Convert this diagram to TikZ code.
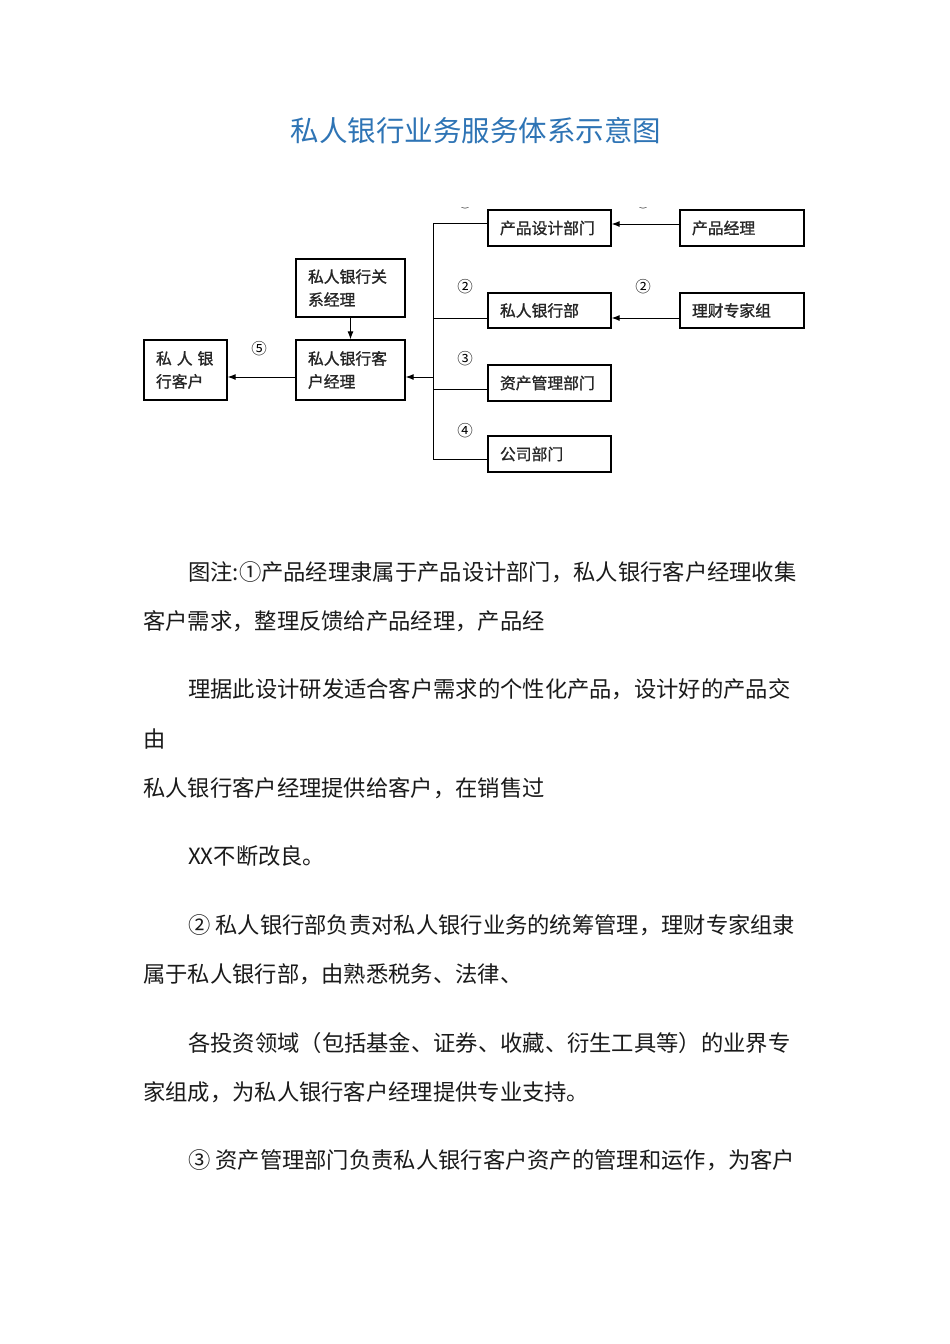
\documentclass[tikz,border=0pt]{standalone}
\usepackage{fontspec}
\setmainfont{Noto Sans CJK SC}
\newfontfamily\cjk{Noto Sans CJK SC}
\newfontfamily\cjkbox[FakeBold=1.2]{Noto Sans CJK SC}
\usetikzlibrary{arrows.meta}
\definecolor{titleblue}{HTML}{2E74B5}
\definecolor{bodyink}{HTML}{1A1A1A}
\tikzset{
  box/.style={draw, line width=1.3pt, inner xsep=12pt, inner ysep=0pt, align=left, font=\cjkbox\fontsize{15.8}{23}\selectfont, text=black!85, anchor=center},
  arr/.style={line width=1pt, -{Latex[length=8pt,width=6pt]}},
  conn/.style={line width=1pt},
  num/.style={font=\cjk\fontsize{15.5}{15.5}\selectfont, inner sep=0pt},
  body/.style={font=\cjk\fontsize{22.3}{22.3}\selectfont, text=bodyink, anchor=west, inner sep=0pt},
}
\begin{document}
\begin{tikzpicture}[x=1pt,y=-1pt]
\useasboundingbox (0,0) rectangle (950,1344);
\fill[white] (0,0) rectangle (950,1344);
% title
\node[font=\cjk\fontsize{28.5}{28.5}\selectfont, text=titleblue, inner sep=0pt] (title) at (476,131) {私人银行业务服务体系示意图};
% boxes
\node[box, minimum width=83pt, minimum height=60pt, text width=59pt] (client) at (185.5,370) {私\hspace{5pt}人\hspace{5pt}银\\行客户};
\node[box, minimum width=109pt, minimum height=58pt, text width=85pt] (rm) at (350.5,288) {私人银行关\\系经理};
\node[box, minimum width=109pt, minimum height=60pt, text width=85pt] (cm) at (350.5,370) {私人银行客\\户经理};
\node[box, minimum width=123pt, minimum height=36pt, text width=99pt] (pd) at (549.5,228) {产品设计部门};
\node[box, minimum width=124pt, minimum height=36pt, text width=100pt] (pm) at (742,228) {产品经理};
\node[box, minimum width=123pt, minimum height=35pt, text width=99pt] (pb) at (549.5,310.5) {私人银行部};
\node[box, minimum width=124pt, minimum height=35pt, text width=100pt] (fe) at (742,310.5) {理财专家组};
\node[box, minimum width=123pt, minimum height=36pt, text width=99pt] (am) at (549.5,383) {资产管理部门};
\node[box, minimum width=123pt, minimum height=36pt, text width=99pt] (cd) at (549.5,454) {公司部门};
% bus
\coordinate (b1) at (433,223);
\coordinate (b2) at (433,318);
\coordinate (bc) at (433,377);
\coordinate (b3) at (433,389);
\coordinate (b4) at (433,459);
\draw[conn] (b1) -- (b4);
\draw[conn] (b1) -- (b1 -| pd.west);
\draw[conn] (b2) -- (b2 -| pb.west);
\draw[conn] (b3) -- (b3 -| am.west);
\draw[conn] (b4) -- (b4 -| cd.west);
\draw[arr] (bc) -- (bc -| cm.east);
% arrows
\draw[arr] ([yshift=4pt]pm.west) -- ([yshift=4pt]pd.east);
\draw[arr] ([yshift=-7.5pt]fe.west) -- ([yshift=-7.5pt]pb.east);
\draw[arr] (rm.south) -- (cm.north);
\draw[arr] ([yshift=-7pt]cm.west) -- ([yshift=-7pt]client.east);
% numbers
\node[num] (n5) at (259,349) {⑤};
\node[num] (n2a) at (465,287) {②};
\node[num] (n2b) at (643,287) {②};
\node[num] (n3) at (465,359) {③};
\node[num] (n4) at (465,431) {④};
\begin{scope}
\clip (440,207.5) rectangle (680,214);
\node[num] (n1a) at (465,202) {①};
\node[num] (n1b) at (643,202) {①};
\end{scope}
% body text
\node[body] (t1) at (188,572) {图注:①产品经理隶属于产品设计部门，私人银行客户经理收集};
\node[body] (t2) at (143,621) {客户需求，整理反馈给产品经理，产品经};
\node[body] (t3) at (188,689) {理据此设计研发适合客户需求的个性化产品，设计好的产品交};
\node[body] (t4) at (143,739) {由};
\node[body] (t5) at (143,788) {私人银行客户经理提供给客户，在销售过};
\node[body] (t6) at (188,856) {XX不断改良。};
\node[body] (t7) at (188,925) {② 私人银行部负责对私人银行业务的统筹管理，理财专家组隶};
\node[body] (t8) at (143,974) {属于私人银行部，由熟悉税务、法律、};
\node[body] (t9) at (188,1043) {各投资领域（包括基金、证券、收藏、衍生工具等）的业界专};
\node[body] (t10) at (143,1092) {家组成，为私人银行客户经理提供专业支持。};
\node[body] (t11) at (188,1160) {③ 资产管理部门负责私人银行客户资产的管理和运作，为客户};
\end{tikzpicture}
\end{document}
